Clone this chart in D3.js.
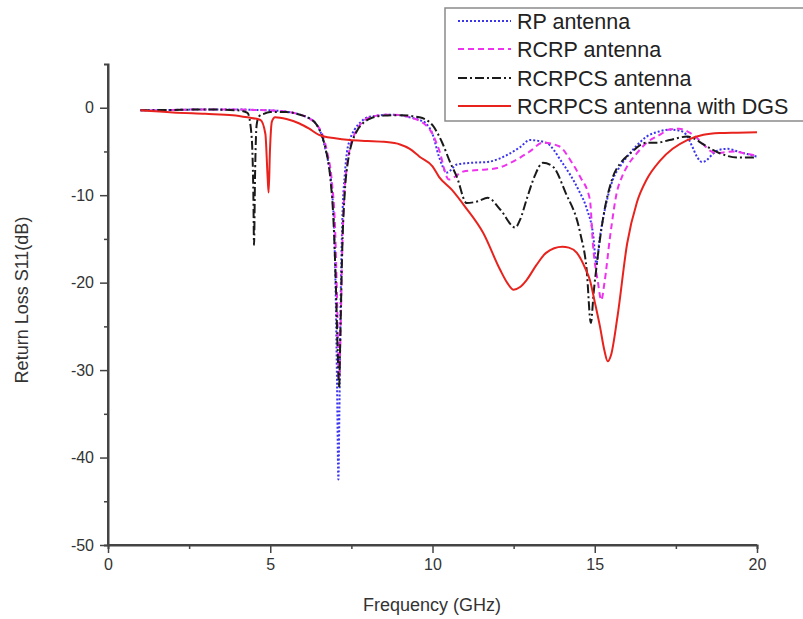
<!DOCTYPE html>
<html><head><meta charset="utf-8">
<script src="https://cdn.jsdelivr.net/npm/d3@7"></script>
<style>body{margin:0;background:#fff;} svg{display:block;font-family:"Liberation Sans",Arial,sans-serif;}</style>
</head><body>
<svg id="c" width="803" height="619"></svg>
<script>
const seriesNames = ["RP antenna","RCRP antenna","RCRPCS antenna","RCRPCS antenna with DGS"];
const xTicks = [0,5,10,15,20];
const yTicks = [0,-10,-20,-30,-40,-50];

const rpX = [1,2,3,4,4.5,5,5.5,5.92,6.2,6.38,6.55,6.69,6.8,6.9,6.97,7.02,7.06,7.1,7.13,7.17,7.22,7.3,7.36,7.46,7.6,7.8,7.98,8.3,8.6,9,9.3,9.6,9.8,10.0,10.2,10.45,10.75,11.2,11.7,12.3,12.7,13.0,13.5,14.0,14.5,14.75,14.95,15.05,15.15,15.25,15.4,15.56,15.8,16,16.3,16.6,17.0,17.3,17.6,17.8,18.0,18.15,18.3,18.45,18.55,18.85,19.1,19.4,19.7,20];
const rpY = [-0.3,-0.25,-0.2,-0.2,-0.25,-0.3,-0.45,-0.8,-1.2,-1.7,-2.8,-4.6,-6.5,-9.4,-14,-22,-32,-42.5,-35,-22,-13,-7.5,-5.2,-3.6,-2.5,-1.6,-1.1,-0.9,-0.8,-0.85,-1.1,-1.4,-1.8,-3.0,-5.6,-7.4,-6.5,-6.3,-6.2,-5.4,-4.5,-3.7,-4.0,-6.3,-9.4,-11.5,-14.5,-17.8,-15,-12.8,-10.2,-8.2,-6.6,-5.6,-4.3,-3.3,-2.7,-2.5,-2.6,-3.0,-4.4,-5.6,-6.2,-6.0,-5.6,-4.8,-4.7,-5.0,-5.3,-5.6];

const rcrpX = [1,2,3,4,4.5,5,5.5,5.92,6.2,6.4,6.6,6.75,6.9,7.0,7.06,7.12,7.17,7.22,7.28,7.36,7.46,7.6,7.8,8.0,8.3,8.6,9,9.3,9.6,9.8,10.0,10.2,10.5,10.95,11.5,12.0,12.4,12.7,13.0,13.4,13.9,14.3,14.55,14.85,14.95,15.1,15.2,15.3,15.47,15.68,15.85,16,16.3,16.6,17.0,17.3,17.6,17.85,18.1,18.35,18.55,18.75,19.0,19.3,19.6,20];
const rcrpY = [-0.3,-0.25,-0.2,-0.2,-0.25,-0.3,-0.45,-0.8,-1.2,-1.8,-3.0,-5.0,-8.5,-14,-22,-31,-25,-16,-10,-6.8,-4.5,-3.0,-1.8,-1.2,-0.9,-0.8,-0.85,-1.1,-1.5,-2.0,-3.0,-4.8,-8.2,-7.3,-7.1,-6.9,-6.3,-5.7,-5.0,-4.0,-4.4,-6.3,-7.9,-10.5,-15.9,-20,-22,-20,-14.8,-9.7,-7.8,-6.7,-5.2,-4.0,-3.1,-2.5,-2.4,-2.7,-3.3,-4.2,-4.9,-5.2,-5.1,-5.0,-5.2,-5.5];

const csX = [1,2,3,4,4.3,4.42,4.48,4.5,4.53,4.58,4.65,4.8,5,5.5,5.92,6.2,6.38,6.55,6.7,6.85,6.95,7.02,7.08,7.12,7.16,7.22,7.3,7.4,7.5,7.65,7.85,8.1,8.5,9,9.6,10.0,10.3,10.55,10.75,11.05,11.4,11.7,12.1,12.55,12.7,12.9,13.15,13.4,13.7,14.1,14.55,14.75,14.88,14.97,15.07,15.25,15.56,15.8,16.1,16.6,16.9,17.3,17.85,18.1,18.35,18.85,19.4,20];
const csY = [-0.3,-0.25,-0.2,-0.3,-0.6,-3,-10,-15.7,-8,-2.0,-1.0,-0.7,-0.5,-0.5,-0.8,-1.2,-1.7,-2.8,-4.6,-8,-13,-20,-28,-32,-26,-16,-9.5,-6,-4.2,-2.8,-1.8,-1.2,-0.9,-0.85,-1.1,-2.0,-4.0,-6.3,-7.9,-10.9,-10.7,-10.3,-11.7,-13.7,-12.8,-10.5,-7.8,-6.3,-6.7,-9.7,-14.3,-18.5,-24.6,-21,-17.7,-12.8,-7.9,-6.3,-5.2,-4.0,-4.0,-3.7,-3.3,-3.6,-4.2,-5.2,-5.7,-5.7];

const dgsX = [1,2,3,3.85,4.3,4.7,4.85,4.92,4.95,4.99,5.05,5.15,5.5,5.9,6.2,6.5,7.0,7.45,8.0,8.5,9.0,9.3,9.6,10.0,10.2,10.6,11.0,11.56,12.08,12.3,12.5,12.7,12.9,13.2,13.5,14.0,14.2,14.45,14.7,14.85,15.0,15.16,15.3,15.4,15.5,15.7,16.0,16.3,16.6,17.0,17.4,17.85,18.35,18.85,19.4,20];
const dgsY = [-0.3,-0.55,-0.7,-0.85,-1.1,-1.4,-3,-8,-9.7,-5,-1.6,-1.1,-1.3,-1.8,-2.4,-3.1,-3.5,-3.7,-3.8,-3.9,-4.2,-4.7,-5.6,-6.7,-7.9,-9.4,-11.3,-14.3,-18.5,-20.0,-20.8,-20.5,-19.7,-18.0,-16.6,-15.9,-16.0,-16.6,-18.3,-19.7,-22.2,-25,-27.8,-29,-28.3,-23.9,-15.5,-10.8,-8.2,-6.1,-4.7,-3.7,-3.1,-2.9,-2.85,-2.8];

const colors = ["#3a33f0","#ee33ee","#1a1a1a","#e8231e"];
const dashes = ["2,2","6,4","9,3,2,3",null];
const series = [[rpX,rpY],[rcrpX,rcrpY],[csX,csY],[dgsX,dgsY]];

const svg = d3.select("#c");
const x = d3.scaleLinear().domain([0,20]).range([108,757]);
const y = d3.scaleLinear().domain([-50,5]).range([545,64]);
const axisCol = "#444";

// lines
const line = d3.line().x(d=>x(d[0])).y(d=>y(d[1])).curve(d3.curveMonotoneX);
series.forEach((s,i)=>{
  const pts = s[0].map((v,j)=>[v,s[1][j]]);
  svg.append("path").datum(pts).attr("d",line).attr("fill","none")
    .attr("stroke",colors[i]).attr("stroke-width",2)
    .attr("stroke-dasharray",dashes[i]);
});

const fmt = d => String(d);
// axes
const gx = svg.append("g").attr("transform","translate(0,545)")
  .call(d3.axisBottom(x).tickValues(xTicks).tickSize(8).tickPadding(6).tickFormat(fmt));
const gxm = svg.append("g").attr("transform","translate(0,545)")
  .call(d3.axisBottom(x).tickValues([2.5,7.5,12.5,17.5]).tickSize(4).tickFormat(""));
const gy = svg.append("g").attr("transform","translate(108,0)")
  .call(d3.axisLeft(y).tickValues(yTicks).tickSize(8).tickPadding(6).tickFormat(fmt));
const gym = svg.append("g").attr("transform","translate(108,0)")
  .call(d3.axisLeft(y).tickValues([-5,-15,-25,-35,-45]).tickSize(4).tickFormat(""));
[gx,gxm,gy,gym].forEach(g=>{
  g.selectAll("path").attr("stroke",axisCol).attr("stroke-width",2);
  g.selectAll("line").attr("stroke",axisCol).attr("stroke-width",1.5);
  g.selectAll("text").attr("fill","#333").style("font-size","16px").style("font-family","'Liberation Sans',Arial,sans-serif");
});
gx.select(".domain").attr("d","M108,0H757");
gy.select(".domain").attr("d","M0,545V64");

svg.append("text").attr("x",432).attr("y",611).attr("text-anchor","middle")
  .attr("fill","#333").style("font-size","18px").text("Frequency (GHz)");
svg.append("text").attr("transform","translate(28,300) rotate(-90)").attr("text-anchor","middle")
  .attr("fill","#333").style("font-size","18px").text("Return Loss S11(dB)");

// legend
const lg = svg.append("g");
lg.append("rect").attr("x",445).attr("y",8).attr("width",400).attr("height",113)
  .attr("fill","#fff").attr("stroke","#8a8a8a").attr("stroke-width",1.5);
const rowY = [21,49,78,106];
seriesNames.forEach((n,i)=>{
  lg.append("line").attr("x1",458).attr("x2",511).attr("y1",rowY[i]).attr("y2",rowY[i])
    .attr("stroke",colors[i]).attr("stroke-width",2).attr("stroke-dasharray",dashes[i]);
  lg.append("text").attr("x",517).attr("y",rowY[i]).attr("dy","0.36em")
    .attr("fill","#222").style("font-size","21.5px").text(n);
});
</script>
</body></html>
